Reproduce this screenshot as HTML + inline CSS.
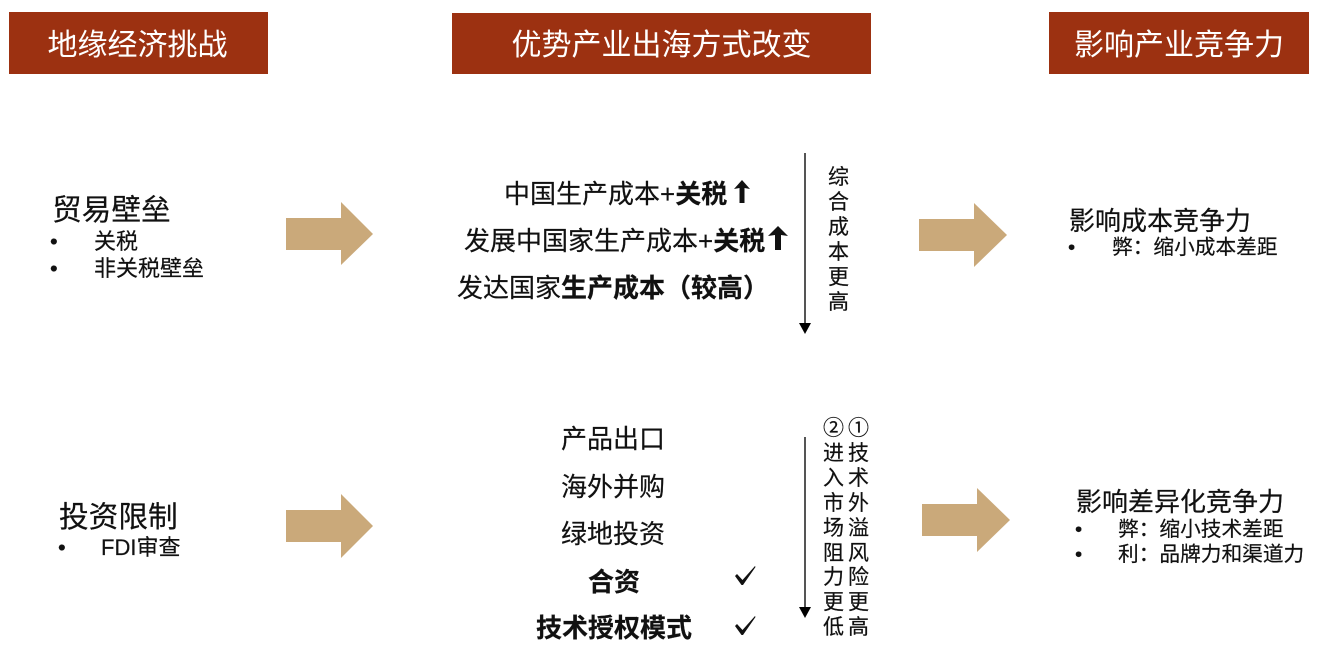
<!DOCTYPE html>
<html lang="zh">
<head>
<meta charset="utf-8">
<style>
html,body{margin:0;padding:0;background:#fff}
#p{position:relative;width:1320px;height:657px;overflow:hidden;background:#fff;font-family:"Liberation Sans","Noto Sans CJK SC",sans-serif;color:#111}
.h{position:absolute;background:#9c3111;color:#fff;font-size:30px;text-align:center;white-space:nowrap}
.t{position:absolute;white-space:nowrap;line-height:1;-webkit-text-stroke:.2px #111}
.s30{font-size:29.7px}.s26{font-size:26px}.s22{font-size:22px}.s21{font-size:21px}.s206{font-size:20.7px}
b{font-weight:700}
svg{position:absolute;left:0;top:0}
</style>
</head>
<body>
<div id="p">
<div class="h" style="left:9px;top:12px;width:259px;height:62px;line-height:67px;text-indent:-2px">地缘经济挑战</div>
<div class="h" style="left:452px;top:13px;width:419px;height:61px;line-height:65px">优势产业出海方式改变</div>
<div class="h" style="left:1049px;top:12px;width:260px;height:62px;line-height:67px">影响产业竞争力</div>

<svg width="1320" height="657" viewBox="0 0 1320 657">
<g fill="#caa97a">
<polygon points="286,218 341,218 341,202 373,234 341,265 341,250 286,250"/>
<polygon points="286,510 341,510 341,494 373,526 341,558 341,542 286,542"/>
<polygon points="919,219 974,219 974,203 1007,235 974,267 974,251 919,251"/>
<polygon points="922,504 977,504 977,488 1010,520 977,552 977,536 922,536"/>
</g>
<line x1="805" y1="153" x2="805" y2="324" stroke="#555" stroke-width="2"/>
<polygon points="799,323 811,323 805,334" fill="#000"/>
<line x1="805" y1="437" x2="805" y2="608" stroke="#555" stroke-width="2"/>
<polygon points="799,607 811,607 805,618" fill="#000"/>
<g fill="#111">
<polygon points="735,576 737,574 742.500,580 755,566 755.500,567 743,585 741.500,585"/>
<polygon points="735,626 737,624 742.500,630 755,616 755.500,617 743,635 741.500,635"/>
<polygon points="742,180 750,189 744.500,188 744.500,203 739.500,203 739.500,188 734,189"/>
<polygon points="778,226 788,236 781,235 781,250 775,250 775,235 768,236"/>
</g>
</svg>

<div class="t s30" style="left:52px;top:196px">贸易壁垒</div>
<div class="t s22" style="left:50px;top:231px">•</div>
<div class="t s22" style="left:94px;top:231px">关税</div>
<div class="t s22" style="left:50px;top:258px">•</div>
<div class="t s22" style="left:94px;top:258px">非关税壁垒</div>

<div class="t s30" style="left:59px;top:503px">投资限制</div>
<div class="t s22" style="left:58px;top:537px">•</div>
<div class="t s22" style="left:101px;top:537px">FDI审查</div>

<div class="t s26" style="left:504px;top:181px">中国生产成本+<b>关税</b></div>
<div class="t s26" style="left:464px;top:228px">发展中国家生产成本+<b>关税</b></div>
<div class="t s26" style="left:457px;top:275px">发达国家<b>生产成本（较高）</b></div>

<div class="t s26" style="left:561px;top:426px">产品出口</div>
<div class="t s26" style="left:561px;top:474px">海外并购</div>
<div class="t s26" style="left:561px;top:521px">绿地投资</div>
<div class="t s26" style="left:588px;top:569px"><b>合资</b></div>
<div class="t s26" style="left:536px;top:615px"><b>技术授权模式</b></div>

<div class="t s21" style="left:828px;top:167px">综</div>
<div class="t s21" style="left:828px;top:192px">合</div>
<div class="t s21" style="left:828px;top:217px">成</div>
<div class="t s21" style="left:828px;top:242px">本</div>
<div class="t s21" style="left:828px;top:267px">更</div>
<div class="t s21" style="left:828px;top:292px">高</div>

<div class="t s21" style="left:823px;top:418px">②</div><div class="t s21" style="left:848px;top:418px">①</div>
<div class="t s21" style="left:823px;top:443px">进</div><div class="t s21" style="left:848px;top:443px">技</div>
<div class="t s21" style="left:823px;top:468px">入</div><div class="t s21" style="left:848px;top:468px">术</div>
<div class="t s21" style="left:823px;top:493px">市</div><div class="t s21" style="left:848px;top:493px">外</div>
<div class="t s21" style="left:823px;top:518px">场</div><div class="t s21" style="left:848px;top:518px">溢</div>
<div class="t s21" style="left:823px;top:543px">阻</div><div class="t s21" style="left:848px;top:543px">风</div>
<div class="t s21" style="left:823px;top:567px">力</div><div class="t s21" style="left:848px;top:567px">险</div>
<div class="t s21" style="left:823px;top:592px">更</div><div class="t s21" style="left:848px;top:592px">更</div>
<div class="t s21" style="left:823px;top:617px">低</div><div class="t s21" style="left:848px;top:617px">高</div>

<div class="t s26" style="left:1069px;top:208px">影响成本竞争力</div>
<div class="t s206" style="left:1068px;top:238px">•</div>
<div class="t s206" style="left:1112px;top:238px">弊：缩小成本差距</div>

<div class="t s26" style="left:1076px;top:489px">影响差异化竞争力</div>
<div class="t s206" style="left:1075px;top:520px">•</div>
<div class="t s206" style="left:1118px;top:520px">弊：缩小技术差距</div>
<div class="t s206" style="left:1075px;top:545px">•</div>
<div class="t s206" style="left:1118px;top:545px">利：品牌力和渠道力</div>
</div>
</body>
</html>
